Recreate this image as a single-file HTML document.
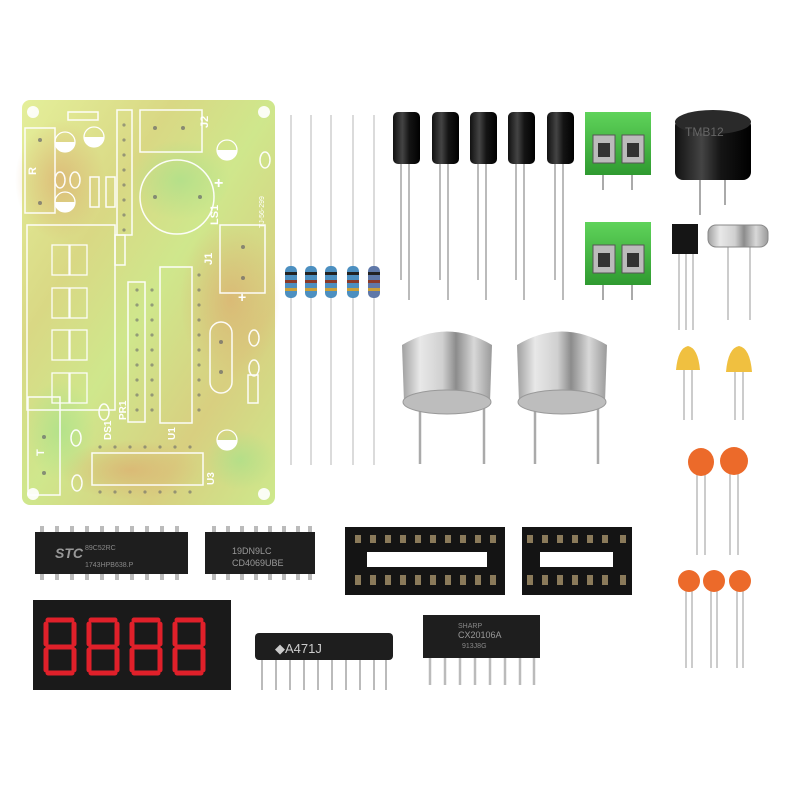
<!DOCTYPE html>
<html><head><meta charset="utf-8"><style>
html,body{margin:0;padding:0;background:#fff;width:800px;height:800px;overflow:hidden}
svg{display:block}
text{font-family:"Liberation Sans",sans-serif}
</style></head><body>
<svg width="800" height="800" viewBox="0 0 800 800" xmlns="http://www.w3.org/2000/svg">
<defs>
<linearGradient id="pcb" x1="0" y1="0" x2="1" y2="1">
<stop offset="0" stop-color="#e4ef9a"/><stop offset="0.3" stop-color="#d9d884"/>
<stop offset="0.5" stop-color="#cfe78c"/><stop offset="0.75" stop-color="#d8cf80"/><stop offset="1" stop-color="#cde98c"/>
</linearGradient>
<radialGradient id="blot"><stop offset="0" stop-color="#dcae70" stop-opacity="0.7"/><stop offset="1" stop-color="#dcae70" stop-opacity="0"/></radialGradient>
<radialGradient id="gblot"><stop offset="0" stop-color="#a8e08a" stop-opacity="0.7"/><stop offset="1" stop-color="#a8e08a" stop-opacity="0"/></radialGradient>
<linearGradient id="cap" x1="0" x2="1"><stop offset="0" stop-color="#111"/><stop offset="0.35" stop-color="#444"/><stop offset="0.6" stop-color="#151515"/><stop offset="1" stop-color="#000"/></linearGradient>
<linearGradient id="sil" x1="0" x2="1"><stop offset="0" stop-color="#a0a0a0"/><stop offset="0.2" stop-color="#e8e8e8"/><stop offset="0.45" stop-color="#d0d0d0"/><stop offset="0.6" stop-color="#8c8c8c"/><stop offset="0.8" stop-color="#d8d8d8"/><stop offset="1" stop-color="#9a9a9a"/></linearGradient>
<linearGradient id="grn" x1="0" y1="0" x2="0" y2="1"><stop offset="0" stop-color="#5fd35a"/><stop offset="1" stop-color="#2f9a30"/></linearGradient>
</defs>

<!-- PCB -->
<rect x="22" y="100" width="253" height="405" rx="8" fill="url(#pcb)"/>
<ellipse cx="60" cy="180" rx="45" ry="60" fill="url(#blot)"/>
<ellipse cx="230" cy="300" rx="50" ry="80" fill="url(#blot)"/>
<ellipse cx="130" cy="470" rx="70" ry="30" fill="url(#blot)"/>
<ellipse cx="60" cy="430" rx="35" ry="50" fill="url(#gblot)"/>
<ellipse cx="180" cy="180" rx="50" ry="40" fill="url(#gblot)"/>
<ellipse cx="240" cy="460" rx="35" ry="30" fill="url(#gblot)"/>
<g fill="#fff" opacity="0.9">
<circle cx="33" cy="112" r="6"/><circle cx="264" cy="112" r="6"/><circle cx="33" cy="494" r="6"/><circle cx="264" cy="494" r="6"/></g>
<g fill="none" stroke="#fff" stroke-width="1.5" opacity="0.95">
<rect x="25" y="128" width="30" height="85"/>
<rect x="27" y="225" width="88" height="185"/>
<rect x="28" y="397" width="32" height="98"/>
<rect x="117" y="110" width="15" height="125"/>
<rect x="140" y="110" width="62" height="42"/>
<circle cx="177" cy="197" r="37"/>
<rect x="220" y="225" width="45" height="68"/>
<rect x="160" y="267" width="32" height="156"/>
<rect x="128" y="282" width="17" height="140"/>
<rect x="210" y="322" width="22" height="71" rx="11"/>
<rect x="92" y="453" width="111" height="32"/>
<rect x="68" y="112" width="30" height="8"/>
<rect x="90" y="177" width="9" height="30"/><rect x="106" y="177" width="9" height="30"/>
<rect x="115" y="235" width="10" height="30"/>
<rect x="248" y="375" width="10" height="28"/>
<g stroke-width="1.3">
<rect x="52" y="245" width="17" height="30"/><rect x="70" y="245" width="17" height="30"/>
<rect x="52" y="288" width="17" height="30"/><rect x="70" y="288" width="17" height="30"/>
<rect x="52" y="330" width="17" height="30"/><rect x="70" y="330" width="17" height="30"/>
<rect x="52" y="373" width="17" height="30"/><rect x="70" y="373" width="17" height="30"/>
</g>
<ellipse cx="60" cy="180" rx="5" ry="8"/><ellipse cx="75" cy="180" rx="5" ry="8"/>
<ellipse cx="265" cy="160" rx="5" ry="8"/><ellipse cx="254" cy="338" rx="5" ry="8"/><ellipse cx="254" cy="368" rx="5" ry="8"/>
<ellipse cx="104" cy="412" rx="5" ry="8"/><ellipse cx="76" cy="438" rx="5" ry="8"/><ellipse cx="77" cy="483" rx="5" ry="8"/>
</g>
<g fill="none" stroke="#fff" stroke-width="1.3">
<circle cx="65" cy="142" r="10"/><circle cx="94" cy="137" r="10"/><circle cx="65" cy="202" r="10"/><circle cx="227" cy="150" r="10"/><circle cx="227" cy="440" r="10"/></g>
<g fill="#fff"><path d="M55 142 a10 10 0 0 0 20 0 z"/><path d="M84 137 a10 10 0 0 0 20 0 z"/><path d="M55 202 a10 10 0 0 0 20 0 z"/><path d="M217 150 a10 10 0 0 0 20 0 z"/><path d="M217 440 a10 10 0 0 0 20 0 z"/></g>
<g fill="#556" opacity="0.6">
<circle cx="40" cy="140" r="2"/><circle cx="40" cy="203" r="2"/><circle cx="155" cy="128" r="2"/><circle cx="183" cy="128" r="2"/>
<circle cx="155" cy="197" r="2"/><circle cx="200" cy="197" r="2"/><circle cx="243" cy="247" r="2"/><circle cx="243" cy="278" r="2"/>
<circle cx="44" cy="437" r="2"/><circle cx="44" cy="473" r="2"/><circle cx="221" cy="342" r="2"/><circle cx="221" cy="372" r="2"/>
</g>
<g fill="#556" opacity="0.5">
<circle cx="124" cy="125" r="1.6"/><circle cx="124" cy="140" r="1.6"/><circle cx="124" cy="155" r="1.6"/><circle cx="124" cy="170" r="1.6"/><circle cx="124" cy="185" r="1.6"/><circle cx="124" cy="200" r="1.6"/><circle cx="124" cy="215" r="1.6"/><circle cx="124" cy="230" r="1.6"/>
<circle cx="137" cy="290" r="1.6"/><circle cx="137" cy="305" r="1.6"/><circle cx="137" cy="320" r="1.6"/><circle cx="137" cy="335" r="1.6"/><circle cx="137" cy="350" r="1.6"/><circle cx="137" cy="365" r="1.6"/><circle cx="137" cy="380" r="1.6"/><circle cx="137" cy="395" r="1.6"/><circle cx="137" cy="410" r="1.6"/>
<circle cx="152" cy="290" r="1.6"/><circle cx="152" cy="305" r="1.6"/><circle cx="152" cy="320" r="1.6"/><circle cx="152" cy="335" r="1.6"/><circle cx="152" cy="350" r="1.6"/><circle cx="152" cy="365" r="1.6"/><circle cx="152" cy="380" r="1.6"/><circle cx="152" cy="395" r="1.6"/><circle cx="152" cy="410" r="1.6"/>
<circle cx="199" cy="275" r="1.6"/><circle cx="199" cy="290" r="1.6"/><circle cx="199" cy="305" r="1.6"/><circle cx="199" cy="320" r="1.6"/><circle cx="199" cy="335" r="1.6"/><circle cx="199" cy="350" r="1.6"/><circle cx="199" cy="365" r="1.6"/><circle cx="199" cy="380" r="1.6"/><circle cx="199" cy="395" r="1.6"/><circle cx="199" cy="410" r="1.6"/>
<circle cx="100" cy="447" r="1.6"/><circle cx="115" cy="447" r="1.6"/><circle cx="130" cy="447" r="1.6"/><circle cx="145" cy="447" r="1.6"/><circle cx="160" cy="447" r="1.6"/><circle cx="175" cy="447" r="1.6"/><circle cx="190" cy="447" r="1.6"/>
<circle cx="100" cy="492" r="1.6"/><circle cx="115" cy="492" r="1.6"/><circle cx="130" cy="492" r="1.6"/><circle cx="145" cy="492" r="1.6"/><circle cx="160" cy="492" r="1.6"/><circle cx="175" cy="492" r="1.6"/><circle cx="190" cy="492" r="1.6"/>
</g>
<g fill="#fff" font-size="11" font-weight="bold">
<text x="36" y="175" transform="rotate(-90 36 175)">R</text>
<text x="36" y="448" transform="rotate(-90 44 448)">T</text>
<text x="208" y="128" transform="rotate(-90 208 128)">J2</text>
<text x="212" y="265" transform="rotate(-90 212 265)">J1</text>
<text x="218" y="225" transform="rotate(-90 218 225)">LS1</text>
<text x="111" y="440" transform="rotate(-90 111 440)" font-size="10">DS1</text>
<text x="126" y="420" transform="rotate(-90 126 420)" font-size="10">PR1</text>
<text x="175" y="440" transform="rotate(-90 175 440)" font-size="10">U1</text>
<text x="214" y="485" transform="rotate(-90 214 485)" font-size="10">U3</text>
<text x="264" y="228" transform="rotate(-90 264 228)" font-size="7" font-weight="normal">TJ-56-299</text>
<text x="214" y="188" font-size="16">+</text><text x="238" y="302" font-size="14">+</text>
</g>

<!-- Resistors -->
<g stroke="#cfcfcf" stroke-width="1.5">
<line x1="291" y1="115" x2="291" y2="465"/><line x1="311" y1="115" x2="311" y2="465"/><line x1="331" y1="115" x2="331" y2="465"/><line x1="353" y1="115" x2="353" y2="465"/><line x1="374" y1="115" x2="374" y2="465"/>
</g>
<g>
<rect x="285" y="266" width="12" height="32" rx="5" fill="#4c8fc0"/>
<rect x="305" y="266" width="12" height="32" rx="5" fill="#4c8fc0"/>
<rect x="325" y="266" width="12" height="32" rx="5" fill="#4c8fc0"/>
<rect x="347" y="266" width="12" height="32" rx="5" fill="#4c8fc0"/>
<rect x="368" y="266" width="12" height="32" rx="5" fill="#5f78a8"/>
<g fill="#222"><rect x="285" y="272" width="12" height="3"/><rect x="305" y="272" width="12" height="3"/><rect x="325" y="272" width="12" height="3"/><rect x="347" y="272" width="12" height="3"/><rect x="368" y="272" width="12" height="3"/></g>
<g fill="#c9a03a"><rect x="285" y="288" width="12" height="3"/><rect x="305" y="288" width="12" height="3"/><rect x="325" y="288" width="12" height="3"/><rect x="347" y="288" width="12" height="3"/><rect x="368" y="288" width="12" height="3"/></g>
<g fill="#8a3a2a"><rect x="285" y="280" width="12" height="3"/><rect x="305" y="280" width="12" height="3"/><rect x="325" y="280" width="12" height="3"/><rect x="347" y="280" width="12" height="3"/><rect x="368" y="280" width="12" height="3"/></g>
</g>

<!-- Electrolytic caps -->
<g stroke="#bbb" stroke-width="2">
<line x1="401" y1="160" x2="401" y2="280"/><line x1="409" y1="160" x2="409" y2="300"/>
<line x1="440" y1="160" x2="440" y2="280"/><line x1="448" y1="160" x2="448" y2="300"/>
<line x1="478" y1="160" x2="478" y2="280"/><line x1="486" y1="160" x2="486" y2="300"/>
<line x1="516" y1="160" x2="516" y2="280"/><line x1="524" y1="160" x2="524" y2="300"/>
<line x1="555" y1="160" x2="555" y2="280"/><line x1="563" y1="160" x2="563" y2="300"/>
</g>
<g fill="url(#cap)">
<rect x="393" y="112" width="27" height="52" rx="5"/><rect x="432" y="112" width="27" height="52" rx="5"/><rect x="470" y="112" width="27" height="52" rx="5"/><rect x="508" y="112" width="27" height="52" rx="5"/><rect x="547" y="112" width="27" height="52" rx="5"/>
</g>

<!-- Terminal blocks -->
<g stroke="#aaa" stroke-width="2"><line x1="603" y1="170" x2="603" y2="190"/><line x1="632" y1="170" x2="632" y2="190"/><line x1="603" y1="280" x2="603" y2="300"/><line x1="632" y1="280" x2="632" y2="300"/></g>
<rect x="585" y="112" width="66" height="63" fill="url(#grn)"/>
<rect x="585" y="222" width="66" height="63" fill="url(#grn)"/>
<g fill="#bbb" stroke="#555"><rect x="593" y="135" width="22" height="28"/><rect x="622" y="135" width="22" height="28"/><rect x="593" y="245" width="22" height="28"/><rect x="622" y="245" width="22" height="28"/></g>
<g fill="#333"><rect x="598" y="143" width="12" height="14"/><rect x="627" y="143" width="12" height="14"/><rect x="598" y="253" width="12" height="14"/><rect x="627" y="253" width="12" height="14"/></g>

<!-- Buzzer -->
<g stroke="#aaa" stroke-width="2"><line x1="700" y1="175" x2="700" y2="215"/><line x1="725" y1="175" x2="725" y2="205"/></g>
<rect x="675" y="118" width="76" height="62" rx="8" fill="url(#cap)"/>
<ellipse cx="713" cy="122" rx="38" ry="12" fill="#2a2a2a"/>
<text x="685" y="136" fill="#666" font-size="12">TMB12</text>

<!-- Transistor & crystal -->
<g stroke="#bbb" stroke-width="1.5"><line x1="679" y1="252" x2="679" y2="330"/><line x1="686" y1="252" x2="686" y2="330"/><line x1="693" y1="252" x2="693" y2="330"/>
<line x1="728" y1="245" x2="728" y2="320"/><line x1="750" y1="245" x2="750" y2="320"/></g>
<path d="M672 224 h26 v30 h-26 z" fill="#151515"/>
<rect x="708" y="225" width="60" height="22" rx="8" fill="url(#sil)" stroke="#888"/>

<!-- Ultrasonic sensors -->
<g stroke="#aaa" stroke-width="2.5"><line x1="420" y1="405" x2="420" y2="464"/><line x1="484" y1="400" x2="484" y2="464"/><line x1="535" y1="405" x2="535" y2="464"/><line x1="598" y1="400" x2="598" y2="464"/></g>
<path d="M402 345 Q447 318 492 345 L490 402 L404 402 Z" fill="url(#sil)"/>
<ellipse cx="447" cy="402" rx="44" ry="12" fill="#bdbdbd" stroke="#999"/>
<path d="M517 345 Q562 318 607 345 L605 402 L519 402 Z" fill="url(#sil)"/>
<ellipse cx="562" cy="402" rx="44" ry="12" fill="#bdbdbd" stroke="#999"/>

<!-- Yellow caps -->
<g stroke="#bbb" stroke-width="1.5"><line x1="684" y1="365" x2="684" y2="420"/><line x1="692" y1="365" x2="692" y2="420"/><line x1="735" y1="365" x2="735" y2="420"/><line x1="743" y1="365" x2="743" y2="420"/></g>
<path d="M676 370 q2 -22 12 -24 q10 2 12 24 z" fill="#f0c040"/>
<path d="M726 372 q2 -24 13 -26 q11 2 13 26 z" fill="#f0c040"/>

<!-- Orange ceramic caps -->
<g stroke="#bbb" stroke-width="1.5">
<line x1="697" y1="470" x2="697" y2="555"/><line x1="705" y1="470" x2="705" y2="555"/>
<line x1="730" y1="470" x2="730" y2="555"/><line x1="738" y1="470" x2="738" y2="555"/>
<line x1="686" y1="588" x2="686" y2="668"/><line x1="692" y1="588" x2="692" y2="668"/>
<line x1="711" y1="588" x2="711" y2="668"/><line x1="717" y1="588" x2="717" y2="668"/>
<line x1="737" y1="588" x2="737" y2="668"/><line x1="743" y1="588" x2="743" y2="668"/>
</g>
<g fill="#ec6a2a">
<ellipse cx="701" cy="462" rx="13" ry="14"/><ellipse cx="734" cy="461" rx="14" ry="14"/>
<circle cx="689" cy="581" r="11"/><circle cx="714" cy="581" r="11"/><circle cx="740" cy="581" r="11"/>
</g>

<!-- DIP20 IC -->
<g fill="#bbb">
<rect x="40" y="526" width="4" height="8"/><rect x="55" y="526" width="4" height="8"/><rect x="70" y="526" width="4" height="8"/><rect x="85" y="526" width="4" height="8"/><rect x="100" y="526" width="4" height="8"/><rect x="115" y="526" width="4" height="8"/><rect x="130" y="526" width="4" height="8"/><rect x="145" y="526" width="4" height="8"/><rect x="160" y="526" width="4" height="8"/><rect x="175" y="526" width="4" height="8"/>
<rect x="40" y="572" width="4" height="8"/><rect x="55" y="572" width="4" height="8"/><rect x="70" y="572" width="4" height="8"/><rect x="85" y="572" width="4" height="8"/><rect x="100" y="572" width="4" height="8"/><rect x="115" y="572" width="4" height="8"/><rect x="130" y="572" width="4" height="8"/><rect x="145" y="572" width="4" height="8"/><rect x="160" y="572" width="4" height="8"/><rect x="175" y="572" width="4" height="8"/>
<rect x="212" y="526" width="4" height="8"/><rect x="226" y="526" width="4" height="8"/><rect x="240" y="526" width="4" height="8"/><rect x="254" y="526" width="4" height="8"/><rect x="268" y="526" width="4" height="8"/><rect x="282" y="526" width="4" height="8"/><rect x="296" y="526" width="4" height="8"/><rect x="308" y="526" width="4" height="8"/>
<rect x="212" y="572" width="4" height="8"/><rect x="226" y="572" width="4" height="8"/><rect x="240" y="572" width="4" height="8"/><rect x="254" y="572" width="4" height="8"/><rect x="268" y="572" width="4" height="8"/><rect x="282" y="572" width="4" height="8"/><rect x="296" y="572" width="4" height="8"/><rect x="308" y="572" width="4" height="8"/>
</g>
<rect x="35" y="532" width="153" height="42" fill="#1e1e1e"/>
<text x="55" y="558" fill="#999" font-size="14" font-style="italic" font-weight="bold">STC</text>
<text x="85" y="550" fill="#888" font-size="7">89C52RC</text><text x="85" y="567" fill="#888" font-size="7">1743HPB638.P</text>
<rect x="205" y="532" width="110" height="42" fill="#1e1e1e"/>
<text x="232" y="554" fill="#999" font-size="9">19DN9LC</text><text x="232" y="566" fill="#999" font-size="9">CD4069UBE</text>

<!-- Sockets -->
<rect x="345" y="527" width="160" height="68" fill="#141414"/>
<rect x="367" y="552" width="120" height="15" fill="#fff"/>
<rect x="522" y="527" width="110" height="68" fill="#141414"/>
<rect x="540" y="552" width="73" height="15" fill="#fff"/>
<g fill="#8a7a5a">
<rect x="355" y="535" width="6" height="8"/><rect x="370" y="535" width="6" height="8"/><rect x="385" y="535" width="6" height="8"/><rect x="400" y="535" width="6" height="8"/><rect x="415" y="535" width="6" height="8"/><rect x="430" y="535" width="6" height="8"/><rect x="445" y="535" width="6" height="8"/><rect x="460" y="535" width="6" height="8"/><rect x="475" y="535" width="6" height="8"/><rect x="490" y="535" width="6" height="8"/>
<rect x="355" y="575" width="6" height="10"/><rect x="370" y="575" width="6" height="10"/><rect x="385" y="575" width="6" height="10"/><rect x="400" y="575" width="6" height="10"/><rect x="415" y="575" width="6" height="10"/><rect x="430" y="575" width="6" height="10"/><rect x="445" y="575" width="6" height="10"/><rect x="460" y="575" width="6" height="10"/><rect x="475" y="575" width="6" height="10"/><rect x="490" y="575" width="6" height="10"/>
<rect x="527" y="535" width="6" height="8"/><rect x="542" y="535" width="6" height="8"/><rect x="557" y="535" width="6" height="8"/><rect x="572" y="535" width="6" height="8"/><rect x="587" y="535" width="6" height="8"/><rect x="602" y="535" width="6" height="8"/><rect x="620" y="535" width="6" height="8"/>
<rect x="527" y="575" width="6" height="10"/><rect x="542" y="575" width="6" height="10"/><rect x="557" y="575" width="6" height="10"/><rect x="572" y="575" width="6" height="10"/><rect x="587" y="575" width="6" height="10"/><rect x="602" y="575" width="6" height="10"/><rect x="620" y="575" width="6" height="10"/>
</g>

<!-- 7-seg display -->
<rect x="33" y="600" width="198" height="90" fill="#1a1a1a"/>
<g fill="none" stroke="#e0202a" stroke-width="5" stroke-linecap="round">
<path d="M48 620 h24 M46 624 v20 M74 624 v20 M48 647 h24 M46 650 v20 M74 650 v20 M48 673 h24"/>
<path d="M91 620 h24 M89 624 v20 M117 624 v20 M91 647 h24 M89 650 v20 M117 650 v20 M91 673 h24"/>
<path d="M134 620 h24 M132 624 v20 M160 624 v20 M134 647 h24 M132 650 v20 M160 650 v20 M134 673 h24"/>
<path d="M177 620 h24 M175 624 v20 M203 624 v20 M177 647 h24 M175 650 v20 M203 650 v20 M177 673 h24"/>
</g>

<!-- Resistor network -->
<g stroke="#bbb" stroke-width="2">
<line x1="262" y1="658" x2="262" y2="690"/><line x1="276" y1="658" x2="276" y2="690"/><line x1="290" y1="658" x2="290" y2="690"/><line x1="304" y1="658" x2="304" y2="690"/><line x1="318" y1="658" x2="318" y2="690"/><line x1="332" y1="658" x2="332" y2="690"/><line x1="346" y1="658" x2="346" y2="690"/><line x1="360" y1="658" x2="360" y2="690"/><line x1="374" y1="658" x2="374" y2="690"/><line x1="386" y1="658" x2="386" y2="690"/>
</g>
<rect x="255" y="633" width="138" height="27" rx="4" fill="#1e1e1e"/>
<text x="275" y="653" fill="#ccc" font-size="13">◆A471J</text>

<!-- SIP IC -->
<g stroke="#bbb" stroke-width="2.5">
<line x1="430" y1="655" x2="430" y2="685"/><line x1="445" y1="655" x2="445" y2="685"/><line x1="460" y1="655" x2="460" y2="685"/><line x1="475" y1="655" x2="475" y2="685"/><line x1="490" y1="655" x2="490" y2="685"/><line x1="505" y1="655" x2="505" y2="685"/><line x1="520" y1="655" x2="520" y2="685"/><line x1="534" y1="655" x2="534" y2="685"/>
</g>
<rect x="423" y="615" width="117" height="43" fill="#1e1e1e"/>
<text x="458" y="628" fill="#888" font-size="7">SHARP</text>
<text x="458" y="638" fill="#999" font-size="9">CX20106A</text>
<text x="462" y="648" fill="#888" font-size="7">913J8G</text>
</svg>
</body></html>
